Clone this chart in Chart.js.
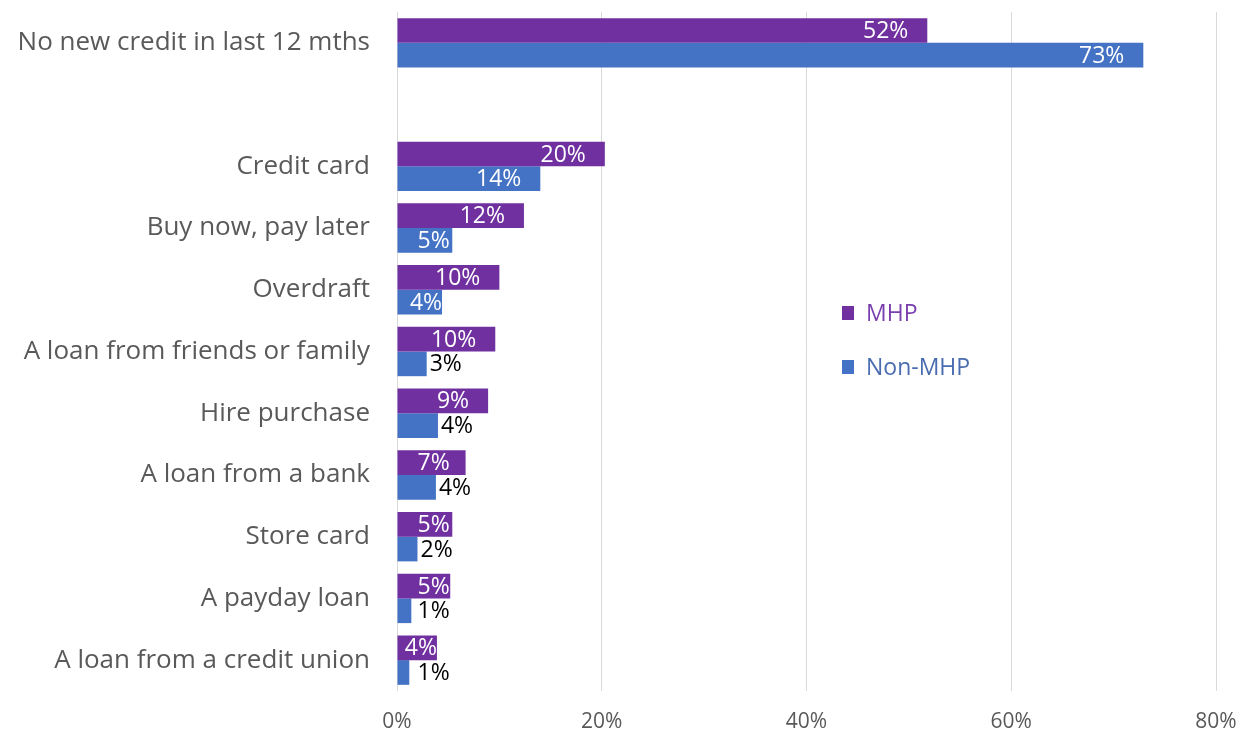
<!DOCTYPE html>
<html>
<head>
<meta charset="utf-8">
<script src="https://cdn.jsdelivr.net/npm/chart.js@4/dist/chart.umd.min.js"></script>
<style>
  body { margin: 0; background: #fff; }
  #wrap { width: 1243px; height: 734px; position: relative; }
</style>
</head>
<body>
<div id="wrap"><canvas id="grafico"></canvas></div>
<script>
// categorias (la fila vacia hace el hueco despues de la primera)
var categorias = ['No new credit in last 12 mths', '', 'Credit card', 'Buy now, pay later', 'Overdraft',
    'A loan from friends or family', 'Hire purchase', 'A loan from a bank', 'Store card',
    'A payday loan', 'A loan from a credit union'];
var mhp     = [51.8, null, 20.3, 12.4, 10.0, 9.6, 8.9, 6.7, 5.4, 5.2, 3.9];
var non_mhp = [72.9, null, 14.0, 5.4, 4.4, 2.9, 4.0, 3.8, 2.0, 1.4, 1.2];
var ticks_x = [0, 20, 40, 60, 80];

var MORADO = '#7030A0';
var AZUL = '#4472C4';
var GRIS = '#595959';
var FUENTE = '"Open Sans", sans-serif';

// etiquetas de valor dentro/fuera de las barras
var etiquetas = {
    id: 'etiquetas',
    afterDatasetsDraw: function(chart) {
        var ctx = chart.ctx;
        ctx.save();
        ctx.font = '23px ' + FUENTE;
        ctx.textBaseline = 'middle';
        chart.data.datasets.forEach(function(ds, i) {
            var meta = chart.getDatasetMeta(i);
            meta.data.forEach(function(bar, j) {
                var v = ds.data[j];
                if (v === null) return;
                var txt = Math.round(v) + '%';
                var w = ctx.measureText(txt).width;
                var ini = bar.base, fin = bar.x;
                ctx.textAlign = 'left';
                if (i == 0 || fin - ini >= w + 10) {
                    var der = fin - 19;
                    if (der - w < ini + 20) der = Math.min(fin, ini + 20 + w);
                    ctx.fillStyle = '#ffffff';
                    ctx.fillText(txt, der - w, bar.y + 1);
                } else {
                    ctx.fillStyle = '#000000';
                    ctx.fillText(txt, Math.max(ini + 20, fin + 3), bar.y + 1);
                }
            });
        });
        ctx.restore();
    }
};

// leyenda dentro del area del grafico
var leyenda = {
    id: 'leyenda',
    afterDraw: function(chart) {
        var ctx = chart.ctx;
        var items = [['MHP', MORADO, '#7a3fae', 313], ['Non-MHP', AZUL, '#4a6cb0', 367]];
        ctx.save();
        ctx.font = '23px ' + FUENTE;
        ctx.textBaseline = 'middle';
        ctx.textAlign = 'left';
        items.forEach(function(it) {
            ctx.fillStyle = it[1];
            ctx.fillRect(842, it[3] - 7, 12, 14);
            ctx.fillStyle = it[2];
            ctx.fillText(it[0], 866, it[3] + 1);
        });
        ctx.restore();
    }
};

var grafico = new Chart(document.getElementById('grafico'), {
    type: 'bar',
    data: {
        labels: categorias,
        datasets: [
            { label: 'MHP', data: mhp, backgroundColor: MORADO, categoryPercentage: 0.8, barPercentage: 1.0 },
            { label: 'Non-MHP', data: non_mhp, backgroundColor: AZUL, categoryPercentage: 0.8, barPercentage: 1.0 }
        ]
    },
    options: {
        indexAxis: 'y',
        responsive: true,
        maintainAspectRatio: false,
        animation: false,
        layout: { padding: { top: 12, right: 27, left: 0, bottom: 0 } },
        plugins: { legend: { display: false }, tooltip: { enabled: false } },
        scales: {
            x: {
                min: 0, max: 80,
                afterBuildTicks: function(scale) {
                    scale.ticks = ticks_x.map(function(v) { return { value: v }; });
                },
                afterFit: function(scale) {
                    scale.height = 43;
                    scale.paddingLeft = 0;
                    scale.paddingRight = 0;
                },
                grid: { color: '#d9d9d9', lineWidth: 1, drawTicks: false },
                border: { display: false },
                ticks: {
                    padding: 18,
                    color: GRIS,
                    font: { family: FUENTE, size: 21 },
                    callback: function(v) { return v + '%'; }
                }
            },
            y: {
                afterFit: function(scale) {
                    scale.width = 397;
                    scale.paddingTop = 0;
                    scale.paddingBottom = 0;
                },
                grid: { display: false },
                border: { display: false },
                ticks: {
                    padding: 19,
                    color: GRIS,
                    font: { family: FUENTE, size: 26 },
                    autoSkip: false
                }
            }
        }
    },
    plugins: [etiquetas, leyenda]
});
</script>
</body>
</html>
